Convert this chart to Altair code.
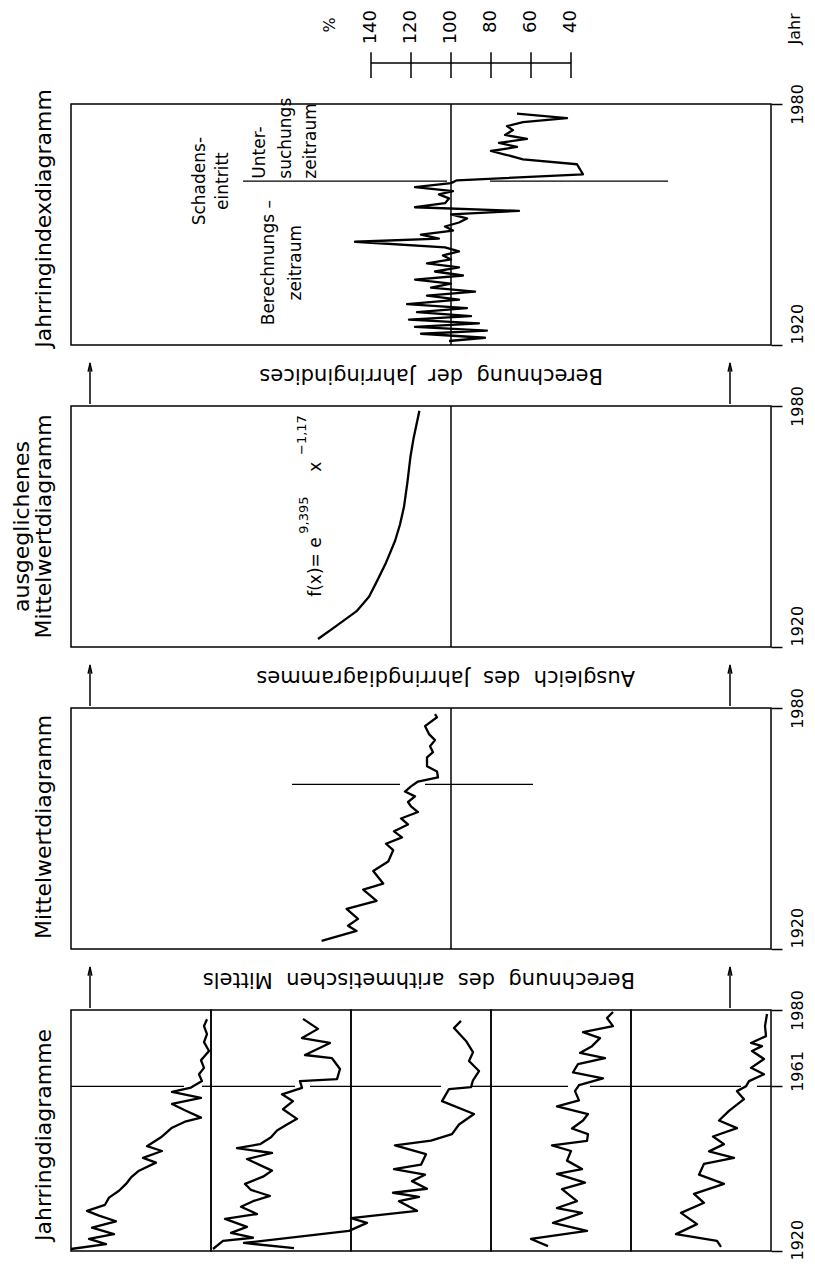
import altair as alt
import pandas as pd

FONT = "DejaVu Sans"

# ---------------- data ----------------
YEAR_TICKS = [1920, 1980]
YEAR_TICKS_TREES = [1920, 1961, 1980]
PCT_TICKS = [140, 120, 100, 80, 60, 40]

# Jahrringindexdiagramm: (year, index %)
INDEX = [(1921.0, 101), (1921.8, 83), (1922.8, 115), (1923.6, 82), (1924.5, 118), (1925.4, 86),
         (1926.3, 121), (1927.2, 90), (1928.2, 117), (1929.2, 92), (1930.2, 122), (1931.3, 96),
         (1932.3, 112), (1933.3, 88), (1934.3, 110), (1935.3, 100), (1936.3, 118), (1937.3, 94),
         (1938.3, 108), (1939.3, 96), (1940.3, 112), (1941.3, 100), (1942.3, 104), (1943.3, 96),
         (1944.3, 103), (1945.7, 148), (1946.5, 106), (1947.5, 115), (1948.5, 99), (1949.5, 103),
         (1950.5, 96), (1951.5, 92), (1952.5, 100), (1953.4, 66), (1954.3, 118), (1955.3, 103),
         (1956.5, 101), (1957.5, 106), (1958.3, 99), (1959.3, 118), (1960.3, 100), (1961.0, 97),
         (1962.5, 34), (1965.0, 37), (1966.2, 64), (1967.3, 72), (1968.3, 80), (1969.3, 67),
         (1970.3, 76), (1971.3, 62), (1972.3, 73), (1973.5, 69), (1974.5, 72), (1975.5, 64),
         (1976.5, 42), (1977.6, 67)]

# ausgeglichenes Mittelwertdiagramm: (year, value)
FIT = [(1922.0, 166.5), (1925.0, 158.0), (1929.0, 147.0), (1932.5, 141.0), (1936.4, 137.0),
       (1941.0, 132.5), (1946.4, 128.0), (1950.5, 125.5), (1954.9, 123.5), (1961.0, 121.8),
       (1967.3, 120.3), (1972.0, 118.7), (1975.5, 117.2), (1978.8, 115.8)]

# Mittelwertdiagramm: (year, value)
MEAN = [(1922.0, 164.7), (1924.5, 147.2), (1925.8, 151.5), (1927.5, 146.5), (1930.0, 152.2),
        (1932.0, 137.2), (1934.8, 143.9), (1936.3, 133.9), (1939.4, 138.9), (1941.8, 131.4),
        (1944.6, 128.9), (1946.2, 132.5), (1947.8, 124.5), (1949.3, 128.5), (1951.0, 121.5),
        (1952.5, 125.0), (1954.1, 116.5), (1955.5, 120.0), (1956.6, 121.5), (1958.0, 118.0),
        (1959.2, 123.0), (1960.5, 120.0), (1961.7, 116.5), (1962.7, 106.5), (1964.2, 107.0),
        (1965.5, 112.0), (1967.7, 112.0), (1969.0, 109.0), (1970.5, 110.5), (1972.0, 108.0),
        (1973.5, 111.0), (1975.5, 113.0), (1977.7, 107.0), (1978.5, 108.0)]

# Jahrringdiagramme, five trees: (year, ring width)
TREE1 = [(1920.5, 7.0), (1921.7, 5.25), (1923.0, 6.1), (1924.2, 4.85), (1925.8, 5.95), (1927.4, 4.75),
         (1928.8, 5.6), (1930.0, 6.2), (1931.5, 5.3), (1933.3, 5.1), (1935.0, 4.6), (1936.7, 4.25),
         (1938.3, 4.0), (1940.0, 3.6), (1942.0, 2.75), (1943.2, 3.4), (1944.9, 2.45), (1946.1, 3.2),
         (1948.3, 2.5), (1950.7, 1.95), (1952.3, 1.25), (1953.2, 0.5), (1954.8, 1.2), (1956.6, 1.95),
         (1958.1, 0.5), (1959.6, 1.95), (1960.7, 1.0), (1962.3, 0.45), (1964.0, 0.6), (1965.6, 0.35),
         (1967.5, 0.5), (1969.8, 0.1), (1972.0, 0.35), (1974.0, 0.2), (1976.0, 0.35), (1977.7, 0.2)]
TREE2 = [(1920.5, 6.9), (1922.5, 6.4), (1923.3, 4.9), (1924.5, 6.0), (1926.0, 5.2), (1928.0, 6.3),
         (1929.2, 4.7), (1931.0, 5.5), (1932.4, 4.9), (1933.7, 4.05), (1935.2, 5.0), (1936.7, 5.3),
         (1938.5, 4.4), (1940.0, 3.95), (1941.5, 4.6), (1942.9, 5.2), (1944.4, 3.95), (1945.6, 5.7),
         (1946.6, 4.55), (1948.3, 4.0), (1950.0, 3.7), (1951.5, 3.2), (1952.9, 2.7), (1955.3, 3.4),
         (1957.3, 2.9), (1959.0, 3.45), (1960.6, 2.45), (1962.3, 2.55), (1962.8, 0.7), (1965.3, 0.55),
         (1968.0, 0.95), (1968.8, 2.3), (1971.8, 1.05), (1973.0, 2.45), (1975.3, 1.65), (1977.8, 2.4)]
TREE3 = [(1920.7, 9.85), (1922.0, 12.35), (1925.0, 7.1), (1927.0, 6.2), (1928.2, 7.0), (1930.0, 3.7),
         (1932.4, 4.6), (1933.5, 3.6), (1934.5, 4.9), (1935.5, 3.2), (1937.4, 3.95), (1939.0, 3.3),
         (1940.4, 4.85), (1941.5, 3.5), (1944.1, 3.25), (1946.3, 4.8), (1947.5, 3.0), (1949.1, 1.95),
         (1951.5, 1.6), (1954.1, 0.85), (1957.3, 2.45), (1960.3, 2.1), (1960.8, 1.0), (1962.5, 0.9),
         (1964.8, 0.6), (1967.3, 1.1), (1969.5, 0.9), (1972.3, 1.25), (1975.5, 1.85), (1977.3, 1.5)]
TREE4 = [(1921.2, 4.15), (1923.0, 5.0), (1925.0, 2.2), (1927.0, 3.9), (1929.5, 2.45), (1930.7, 3.7),
         (1932.4, 2.7), (1935.4, 3.45), (1937.0, 2.3), (1939.2, 3.7), (1940.4, 2.45), (1942.5, 3.2),
         (1944.9, 3.0), (1946.3, 3.95), (1947.4, 2.2), (1949.1, 2.15), (1950.5, 2.95), (1952.5, 2.4),
         (1954.1, 2.15), (1956.0, 3.7), (1957.5, 2.6), (1959.8, 2.8), (1961.3, 2.6), (1963.0, 1.4),
         (1964.5, 2.9), (1966.5, 2.65), (1968.0, 1.3), (1969.3, 2.55), (1971.0, 1.95), (1973.0, 1.55),
         (1974.5, 2.4), (1976.0, 0.9), (1978.0, 1.2), (1979.5, 0.9)]
TREE5 = [(1921.0, 2.5), (1922.5, 2.7), (1924.2, 4.75), (1926.7, 3.7), (1929.5, 4.5), (1932.0, 3.35),
         (1934.2, 3.85), (1936.7, 2.35), (1939.0, 3.6), (1941.7, 3.35), (1943.2, 1.85), (1944.8, 3.1),
         (1946.6, 2.35), (1948.5, 2.9), (1950.6, 1.7), (1952.5, 2.6), (1954.9, 2.1), (1957.8, 1.35),
         (1959.8, 1.7), (1961.0, 1.25), (1962.3, 1.1), (1964.0, 0.35), (1965.6, 1.0), (1967.8, 0.35),
         (1969.8, 0.95), (1971.0, 0.45), (1971.8, 1.0), (1973.5, 0.25), (1976.0, 0.3), (1979.0, 0.2)]
TREES = [TREE1, TREE2, TREE3, TREE4, TREE5]

# ---------------- layout / helpers ----------------
W, H, SW = 700, 241, 140
VS = alt.Scale(domain=[-60, 290], reverse=True, nice=False, zero=False)
US = alt.Scale(domain=[0, 7], reverse=True, nice=False, zero=False)
YS = alt.Scale(domain=[1920, 1980], nice=False, zero=False)


def year_axis(values, align_cond, offset_cond):
    return alt.Axis(
        orient="right", values=values, format="d", title=None,
        domain=False, grid=False, ticks=True, tickSize=11,
        tickColor="black", tickWidth=1.5, labelAngle=270,
        labelAlign=align_cond, labelOffset=offset_cond,
        labelBaseline="top", labelPadding=7, labelFont=FONT, labelFontSize=16,
        labelColor="black", labelOverlap=False, labelFlush=False)


def panel_axis():
    return year_axis(YEAR_TICKS,
                     {"condition": {"test": "datum.value == 1920", "value": "left"}, "value": "center"},
                     {"condition": {"test": "datum.value == 1920", "value": -1}, "value": 0})


def tree_axis():
    return year_axis(YEAR_TICKS_TREES,
                     {"condition": {"test": "datum.value == 1980", "value": "center"}, "value": "left"},
                     {"condition": [{"test": "datum.value == 1920", "value": 9},
                                    {"test": "datum.value == 1961", "value": 5}], "value": 0})


def series_line(points, xscale, yax, width=2.3):
    df = pd.DataFrame(points, columns=["year", "val"])
    return alt.Chart(df).mark_line(color="black", strokeWidth=width, strokeJoin="round",
                                   clip=False).encode(
        x=alt.X("val:Q", scale=xscale, axis=None),
        y=alt.Y("year:Q", scale=YS, axis=yax),
        order=alt.Order("year:Q"))


def vrules(rows, xscale, yax, width=1.5):
    df = pd.DataFrame(rows, columns=["x", "year", "year2"])
    return alt.Chart(df).mark_rule(color="black", strokeWidth=width).encode(
        x=alt.X("x:Q", scale=xscale, axis=None),
        y=alt.Y("year:Q", scale=YS, axis=yax),
        y2="year2:Q")


def hrules(rows, xscale, yax, width=1.3):
    df = pd.DataFrame(rows, columns=["year", "x", "x2"])
    return alt.Chart(df).mark_rule(color="black", strokeWidth=width).encode(
        x=alt.X("x:Q", scale=xscale, axis=None), x2="x2:Q",
        y=alt.Y("year:Q", scale=YS, axis=yax))


def labels(rows, xscale, yax, size, angle=270, align="center", baseline="middle"):
    df = pd.DataFrame(rows, columns=["x", "year", "t"])
    return alt.Chart(df).mark_text(font=FONT, fontSize=size, color="black", angle=angle,
                                   align=align, baseline=baseline).encode(
        x=alt.X("x:Q", scale=xscale, axis=None),
        y=alt.Y("year:Q", scale=YS, axis=yax),
        text="t:N")


def arrows(yax):
    xs = [280.5, -39.5]
    shafts = vrules([(x, 1905.3, 1915.6) for x in xs], VS, yax, width=1.5)
    heads = alt.Chart(pd.DataFrame({"x": xs, "year": [1914.4] * 2})).mark_point(
        shape="M-0.45,1L0,-1L0.45,1", filled=False, size=70, color="black",
        strokeWidth=1.5, opacity=1).encode(
        x=alt.X("x:Q", scale=VS, axis=None),
        y=alt.Y("year:Q", scale=YS, axis=yax))
    return [shafts, heads]


NB = "\u00a0\u00a0"

# ---------------- panel 4: Jahrringindexdiagramm ----------------
ax4 = panel_axis()
p4 = alt.layer(
    series_line(INDEX, VS, ax4),
    vrules([(100, 1920, 1980)], VS, ax4),
    hrules([(1960.8, 204, 102), (1960.8, 80.5, -8.5)], VS, ax4),
    # percent scale bar
    hrules([(1990.2, PCT_TICKS[0], PCT_TICKS[-1])], VS, ax4, width=1.5),
    vrules([(t, 1986.5, 1992.9) for t in PCT_TICKS], VS, ax4),
    labels([(t, 2003.4, str(t)) for t in PCT_TICKS], VS, ax4, 18, align="right"),
    labels([(160.5, 2001.6, "%")], VS, ax4, 16, align="right"),
    labels([(-72, 2002.6, "Jahr")], VS, ax4, 16, align="right"),
    # annotations
    labels([(225.5, 1960.8, "Schadens-"), (214, 1960.8, "eintritt"),
            (191, 1940.5, "Berechnungs –"), (177.5, 1940.5, "zeitraum")], VS, ax4, 17),
    labels([(195.5, 1961.4, "Unter-"), (182.5, 1961.4, "suchungs"),
            (170, 1961.4, "zeitraum")], VS, ax4, 17, align="left"),
    labels([(303.5, 1919.3, "Jahrringindexdiagramm")], VS, ax4, 22, align="left"),
    labels([(24, 1912.5, f"Berechnung{NB}der{NB}Jahrringindices")], VS, ax4, 21,
           angle=180, align="left"),
    *arrows(ax4),
).properties(width=W, height=H)

# ---------------- panel 3: ausgeglichenes Mittelwertdiagramm ----------------
ax3 = panel_axis()
p3 = alt.layer(
    series_line(FIT, VS, ax3),
    vrules([(100, 1920, 1980)], VS, ax3),
    labels([(167.5, 1932.5, "f(x)= e"), (167.5, 1963.6, "x")], VS, ax3, 17, align="left"),
    labels([(173.5, 1948.2, "9,395"), (174.5, 1967.8, "−1,17")], VS, ax3, 13, align="left"),
    labels([(314.5, 1950, "ausgeglichenes"), (303.5, 1950, "Mittelwertdiagramm")], VS, ax3, 22),
    labels([(8, 1912.5, f"Ausgleich{NB}des{NB}Jahrringdiagrammes")], VS, ax3, 21,
           angle=180, align="left"),
    *arrows(ax3),
).properties(width=W, height=H)

# ---------------- panel 2: Mittelwertdiagramm ----------------
ax2 = panel_axis()
p2 = alt.layer(
    series_line(MEAN, VS, ax2),
    vrules([(100, 1920, 1980)], VS, ax2),
    hrules([(1961, 179.5, 125.5), (1961, 113, 59)], VS, ax2),
    labels([(303.5, 1922.5, "Mittelwertdiagramm")], VS, ax2, 22, align="left"),
    labels([(8, 1912.5, f"Berechnung{NB}des{NB}arithmetischen{NB}Mittels")], VS, ax2, 21,
           angle=180, align="left"),
    *arrows(ax2),
).properties(width=W, height=H)

# ---------------- panel 1: Jahrringdiagramme (5 strips) ----------------
GAPS = [[(7, 1.35), (0.45, 0)], [(7, 2.8), (2.05, 0)], [(7, 2.5), (1.0, 0)],
        [(7, 3.15), (2.05, 0)], [(7, 1.5), (0.7, 0)]]
strips = []
for i, tree in enumerate(TREES):
    ax = tree_axis() if i == len(TREES) - 1 else None
    lay = [series_line(tree, US, ax),
           hrules([(1961, a, b) for a, b in GAPS[i]], US, ax)]
    if i == 0:
        lay.append(labels([(8.35, 1922.5, "Jahrringdiagramme")], US, ax, 22, align="left"))
    strips.append(alt.layer(*lay).properties(width=SW, height=H))
p1 = alt.hconcat(*strips, spacing=0, bounds="flush")

# fixed placement: the grid's top-left corner sits at padding (left, top)
chart = alt.vconcat(p4, p3, p2, p1, spacing=61, bounds="flush").configure_view(
    stroke="black", strokeWidth=1.5
).properties(
    autosize=alt.AutoSizeParams(type="none"),
    padding={"left": 63, "top": 96, "right": 736, "bottom": 1158},
)

chart.save("out.html", embed_options={"renderer": "svg", "actions": False})
